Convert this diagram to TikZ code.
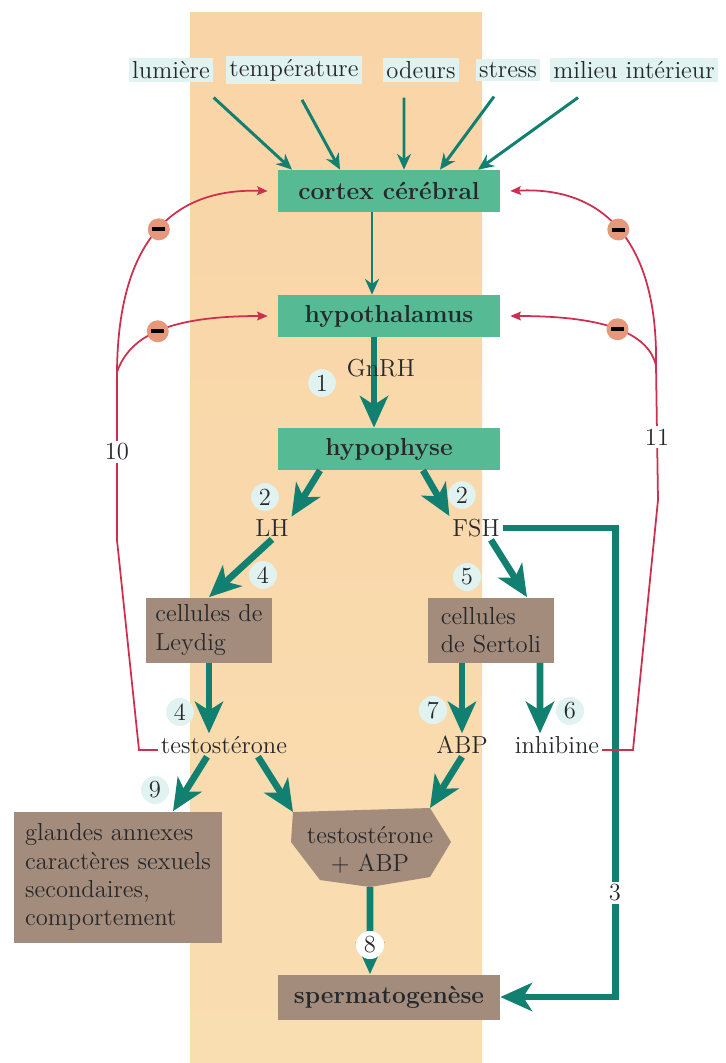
\documentclass[tikz,border=0pt]{standalone}
\usepackage{xcolor}
\usepackage{tikz}
\usetikzlibrary{positioning,arrows.meta}

\definecolor{bandorange}{RGB}{246,198,156}
\definecolor{bandtop}{RGB}{249,212,166}
\definecolor{bandpale}{RGB}{249,222,178}
\definecolor{organgreen}{RGB}{86,186,148}
\definecolor{cellbrown}{RGB}{164,140,124}
\definecolor{hormteal}{RGB}{18,128,112}
\definecolor{fbred}{RGB}{205,48,78}
\definecolor{negfill}{RGB}{232,152,122}
\definecolor{cuebg}{RGB}{224,243,240}
\definecolor{inkdark}{RGB}{38,40,44}

\newcommand{\labelsize}{\fontsize{14}{16}\selectfont}

\begin{document}
\begin{tikzpicture}[x=0.02cm, y=-0.02cm,
        every node/.style={font=\labelsize, text=inkdark, inner sep=1.5pt},
        organ/.style={rectangle, fill=organgreen, minimum width=4.44cm,
                      minimum height=0.84cm, font=\labelsize\bfseries},
        tissue/.style={rectangle, fill=cellbrown, align=left, inner sep=2pt},
        cue/.style={fill=cuebg, inner sep=2pt},
        input/.style={draw=hormteal, line width=1.7pt, -{Stealth[length=9pt, width=8pt]}},
        hormone/.style={draw=hormteal, line width=3.8pt, -{Stealth[length=18pt, width=16pt, inset=5pt]}},
        feedback/.style={draw=fbred, line width=1pt, -{Stealth[length=6pt, width=5pt, inset=1pt]}},
        numtag/.style={circle, fill=cuebg, inner sep=1.5pt, minimum size=0.46cm},
        plaintag/.style={fill=white, inner sep=1.5pt},
        negsign/.style={circle, fill=negfill, text=black, minimum size=0.44cm, inner sep=0pt}]
        \useasboundingbox (0,0) rectangle (725,1063);
        \shade[top color=bandtop, middle color=bandorange, bottom color=bandpale]
            (190,12) rectangle (482,1063);

        \node[cue] (lum)    at (171,70) {lumière};
        \node[cue] (temp)   at (294,70) {température};
        \node[cue] (odeurs) at (421,70) {odeurs};
        \node[cue] (stress) at (508,70) {stress};
        \node[cue] (milieu) at (634,70) {milieu intérieur};

        \node[organ] (cortex)    at (389,191) {cortex cérébral};
        \node[organ] (hypothal)  at (389,316) {hypothalamus};
        \node[organ] (hypophyse) at (389,449) {hypophyse};
        \node (lh)  at (272,528) {LH};
        \node (fsh) at (476,528) {FSH};
        \node[tissue, minimum width=2.52cm, minimum height=1.3cm] (leydig) at (209,630) {cellules de\\Leydig};
        \node[tissue, minimum width=2.54cm, minimum height=1.3cm] (sertoli) at (491,630) {cellules\\de Sertoli};
        \node (testo) at (224,745) {testostérone};
        \node (abp)   at (462,745) {ABP};
        \node (inhib) at (557,745) {inhibine};
        \node[tissue, minimum width=4.16cm, minimum height=2.62cm] (glandes) at (118,877)
            {glandes annexes\\caractères sexuels\\secondaires,\\comportement};
        \node[tissue, minimum width=4.44cm, minimum height=0.9cm, font=\labelsize\bfseries] (sperm) at (389,997) {spermatogenèse};

        \coordinate (tabp-nw) at (293,812);
        \coordinate (tabp-ne) at (430,808);
        \coordinate (tabp-e)  at (451,842);
        \coordinate (tabp-se) at (430,877);
        \coordinate (tabp-s)  at (370,887);
        \coordinate (tabp-sw) at (320,880);
        \coordinate (tabp-w)  at (291,842);
        \fill[cellbrown] (tabp-nw) -- (tabp-ne) -- (tabp-e) -- (tabp-se) -- (tabp-s) -- (tabp-sw) -- (tabp-w) -- cycle;
        \node[align=center] (tabp) at (370,850) {testostérone\\+ ABP};

        \draw[input] ([yshift=-0.3cm]lum.south east) -- ([xshift=-1.94cm]cortex.north);
        \draw[input] ([xshift=0.16cm,yshift=-0.3cm]temp.south) -- ([xshift=-0.98cm]cortex.north);
        \draw[input] ([xshift=-0.34cm,yshift=-0.3cm]odeurs.south) -- ([xshift=0.3cm]cortex.north);
        \draw[input] ([xshift=-0.28cm,yshift=-0.3cm]stress.south) -- ([xshift=1.02cm]cortex.north);
        \draw[input] ([xshift=-1.12cm,yshift=-0.3cm]milieu.south) -- ([xshift=1.78cm]cortex.north);
        \draw[input] ([xshift=-0.34cm]cortex.south) -- ([xshift=-0.34cm]hypothal.north);

        \draw[hormone] ([xshift=-0.3cm]hypothal.south) -- ([xshift=-0.3cm]hypophyse.north);
        \node (gnrh) at (381,368) {GnRH};
        \draw[hormone] ([xshift=-1.38cm]hypophyse.south) -- (lh.north east);
        \draw[hormone] ([xshift=0.68cm]hypophyse.south) -- (fsh.north west);
        \draw[hormone] (lh.south) -- (leydig.north);
        \draw[hormone] ([xshift=0.3cm]fsh.south) -- ([xshift=0.72cm]sertoli.north);
        \draw[hormone] (leydig.south) -- (leydig.south |- testo.north);
        \draw[hormone] (abp.north |- sertoli.south) -- (abp.north);
        \draw[hormone] ([xshift=0.98cm]sertoli.south) -- ([xshift=-0.34cm]inhib.north);
        \draw[hormone] ([xshift=-0.34cm]testo.south) -- ([xshift=1.1cm]glandes.north);
        \draw[hormone] ([xshift=0.68cm]testo.south) -- (tabp-nw);
        \draw[hormone] (abp.south) -- (tabp-ne);
        \draw[hormone] (tabp-s) -- ([xshift=-0.38cm]sperm.north);
        \draw[hormone] (fsh.east) -- ++(113,0) |- (sperm.east);

        \coordinate (j10) at (117,372);
        \coordinate (b10) at (117,540);
        \coordinate (k10) at (139,750);
        \coordinate (j11) at (656,365);
        \coordinate (b11) at (658,500);
        \coordinate (k11) at (633,750);
        \draw[feedback, -] (testo.west |- k10) -- (k10) -- (b10) -- (j10);
        \draw[feedback] (j10) .. controls (118,250) and (165,188) .. ([xshift=-0.2cm]cortex.west)
            node[negsign, pos=0.53] (neg1) {\rule{0.26cm}{0.08cm}};
        \draw[feedback] (j10) .. controls (130,335) and (170,316) .. ([xshift=-0.2cm]hypothal.west)
            node[negsign, pos=0.48] (neg2) {\rule{0.26cm}{0.08cm}};
        \draw[feedback, -] (inhib.east |- k11) -- (k11) -- (b11) -- (j11);
        \draw[feedback] (j11) .. controls (658,250) and (610,186) .. ([xshift=0.2cm]cortex.east)
            node[negsign, pos=0.52] (neg3) {\rule{0.26cm}{0.08cm}};
        \draw[feedback] (j11) .. controls (648,335) and (610,316) .. ([xshift=0.2cm]hypothal.east)
            node[negsign, pos=0.5] (neg4) {\rule{0.26cm}{0.08cm}};

        \node[plaintag] (l10) at (117,452) {10};
        \node[plaintag] (l11) at (657,437) {11};
        \node[plaintag] (l3)  at (615,893) {3};
        \node[numtag] (n1)  at (322,383) {1};
        \node[numtag] (n2a) at (265,497) {2};
        \node[numtag] (n2b) at (462,495) {2};
        \node[numtag] (n4a) at (263,575) {4};
        \node[numtag] (n5)  at (467,577) {5};
        \node[numtag] (n4b) at (180,712) {4};
        \node[numtag] (n7)  at (433,710) {7};
        \node[numtag] (n6)  at (570,711) {6};
        \node[numtag] (n9)  at (155,790) {9};
        \node[numtag, fill=white, minimum size=0.54cm] (n8) at (370,945) {8};
    \end{tikzpicture}
\end{document}
